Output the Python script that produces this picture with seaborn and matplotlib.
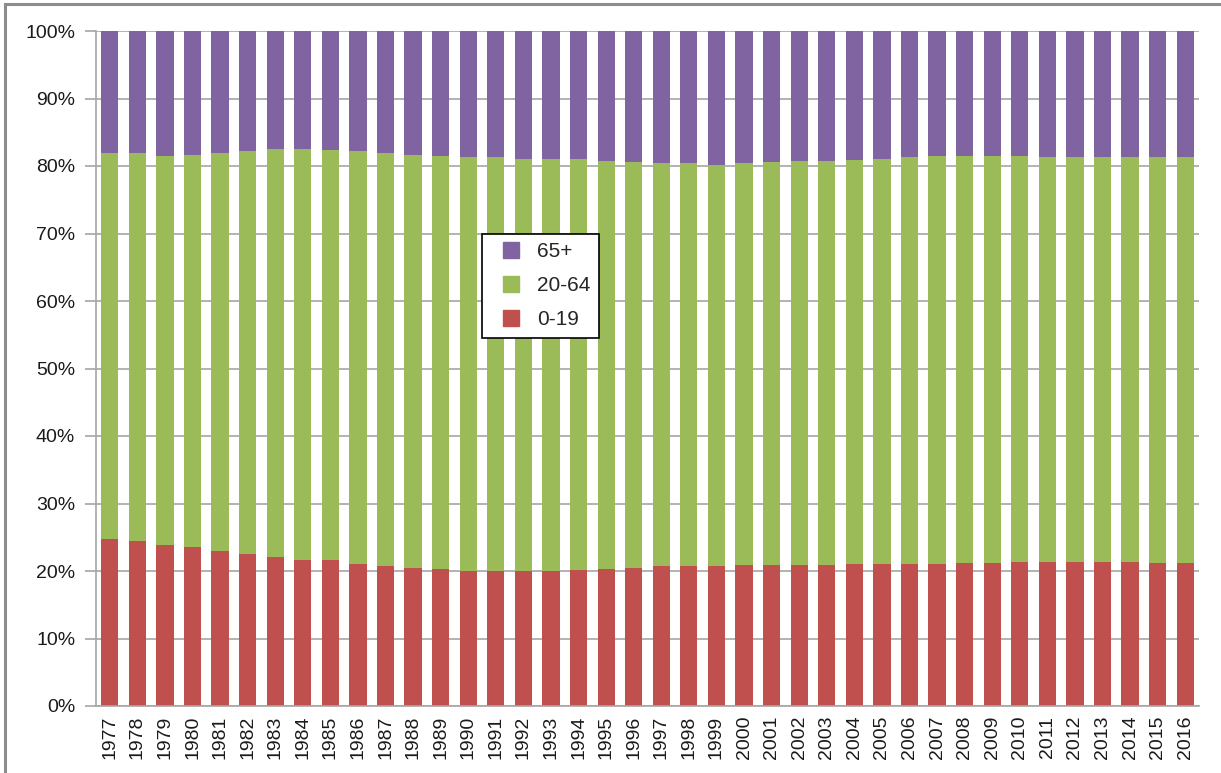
import numpy as np
import pandas as pd
import matplotlib
matplotlib.use("Agg")
import matplotlib.pyplot as plt
import matplotlib.patches as mpatches
import matplotlib.lines as mlines
import seaborn as sns
from matplotlib.ticker import PercentFormatter

# Population shares by age group (%)
years = [str(y) for y in range(1977, 2017)]
age_0_19 = [24.8, 24.4, 23.9, 23.6, 23.0, 22.5, 22.1, 21.6, 21.6, 21.0,
            20.7, 20.5, 20.3, 20.0, 20.0, 20.0, 20.0, 20.2, 20.3, 20.5,
            20.7, 20.7, 20.7, 20.9, 20.9, 20.9, 20.9, 21.0, 21.0, 21.0,
            21.0, 21.2, 21.2, 21.4, 21.4, 21.4, 21.4, 21.4, 21.2, 21.2]
age_20_64 = [57.2, 57.5, 57.6, 58.1, 58.9, 59.7, 60.4, 60.9, 60.8, 61.2,
             61.3, 61.2, 61.2, 61.4, 61.4, 61.1, 61.1, 60.8, 60.5, 60.1,
             59.7, 59.7, 59.5, 59.5, 59.7, 59.8, 59.8, 59.9, 60.1, 60.3,
             60.5, 60.3, 60.3, 60.1, 59.9, 59.9, 59.9, 59.9, 60.1, 60.1]
age_65_plus = [18.0, 18.1, 18.5, 18.3, 18.1, 17.8, 17.5, 17.5, 17.6, 17.8,
               18.0, 18.3, 18.5, 18.6, 18.6, 18.9, 18.9, 19.0, 19.2, 19.4,
               19.6, 19.6, 19.8, 19.6, 19.4, 19.3, 19.3, 19.1, 18.9, 18.7,
               18.5, 18.5, 18.5, 18.5, 18.7, 18.7, 18.7, 18.7, 18.7, 18.7]

colors = {'65+': '#8064A2', '20-64': '#9BBB59', '0-19': '#C0504D'}

df = pd.DataFrame({'year': years, '0-19': age_0_19,
                   '20-64': age_20_64, '65+': age_65_plus})
# cumulative tops for stacking (drawn back to front)
df['top_20_64'] = df['0-19'] + df['20-64']
df['top_65'] = df['top_20_64'] + df['65+']

sns.set_theme(style="white")
plt.rcParams['font.family'] = ['Liberation Sans', 'DejaVu Sans']

fig = plt.figure(figsize=(12.21, 7.73), dpi=100)
ax = fig.add_axes([96 / 1221, 1 - 706 / 773, (1199 - 96) / 1221, (706 - 31) / 773])

grid_c = '#a6a6a6'
ax.set_axisbelow(True)
ax.yaxis.grid(True, color=grid_c, linewidth=1.2)

bw = 0.625
sns.barplot(data=df, x='year', y='top_65', color=colors['65+'], order=years,
            width=bw, saturation=1, ax=ax, linewidth=0, errorbar=None)
sns.barplot(data=df, x='year', y='top_20_64', color=colors['20-64'], order=years,
            width=bw, saturation=1, ax=ax, linewidth=0, errorbar=None)
sns.barplot(data=df, x='year', y='0-19', color=colors['0-19'], order=years,
            width=bw, saturation=1, ax=ax, linewidth=0, errorbar=None)

ax.set_ylim(0, 100)
ax.set_xlim(-0.5, len(years) - 0.5)
ax.set_yticks(np.arange(0, 101, 10))
ax.yaxis.set_major_formatter(PercentFormatter(decimals=0))
ax.set_xlabel("")
ax.set_ylabel("")

for s in ['top', 'right']:
    ax.spines[s].set_visible(False)
for s in ['left', 'bottom']:
    ax.spines[s].set_color(grid_c)
    ax.spines[s].set_linewidth(1.2)

ax.tick_params(axis='y', length=8, color=grid_c, width=1.2, labelsize=14,
               labelcolor='#1a1a1a', pad=7, left=True)
ax.tick_params(axis='x', length=0, labelsize=14, labelcolor='#1a1a1a',
               rotation=90, pad=7)

handles = [mlines.Line2D([], [], marker='s', linestyle='none', markersize=11,
                         color=colors[k], label=k) for k in ['65+', '20-64', '0-19']]
leg = ax.legend(handles=handles, loc='upper left', bbox_to_anchor=(0.35, 0.70),
                fontsize=15, frameon=True, fancybox=False, framealpha=1,
                edgecolor='black', handlelength=1.9, labelspacing=0.72,
                borderpad=0.42, handletextpad=0.3, borderaxespad=0)
leg.get_frame().set_linewidth(1.2)

# outer chart-area frame
fig.patches.append(mpatches.Rectangle((5 / 1221, -0.1), 1.2, 1.1 - 4 / 773,
                                      transform=fig.transFigure, fill=False,
                                      edgecolor='#8c8c8c', linewidth=2.2))

fig.savefig("out.png", dpi=100)
